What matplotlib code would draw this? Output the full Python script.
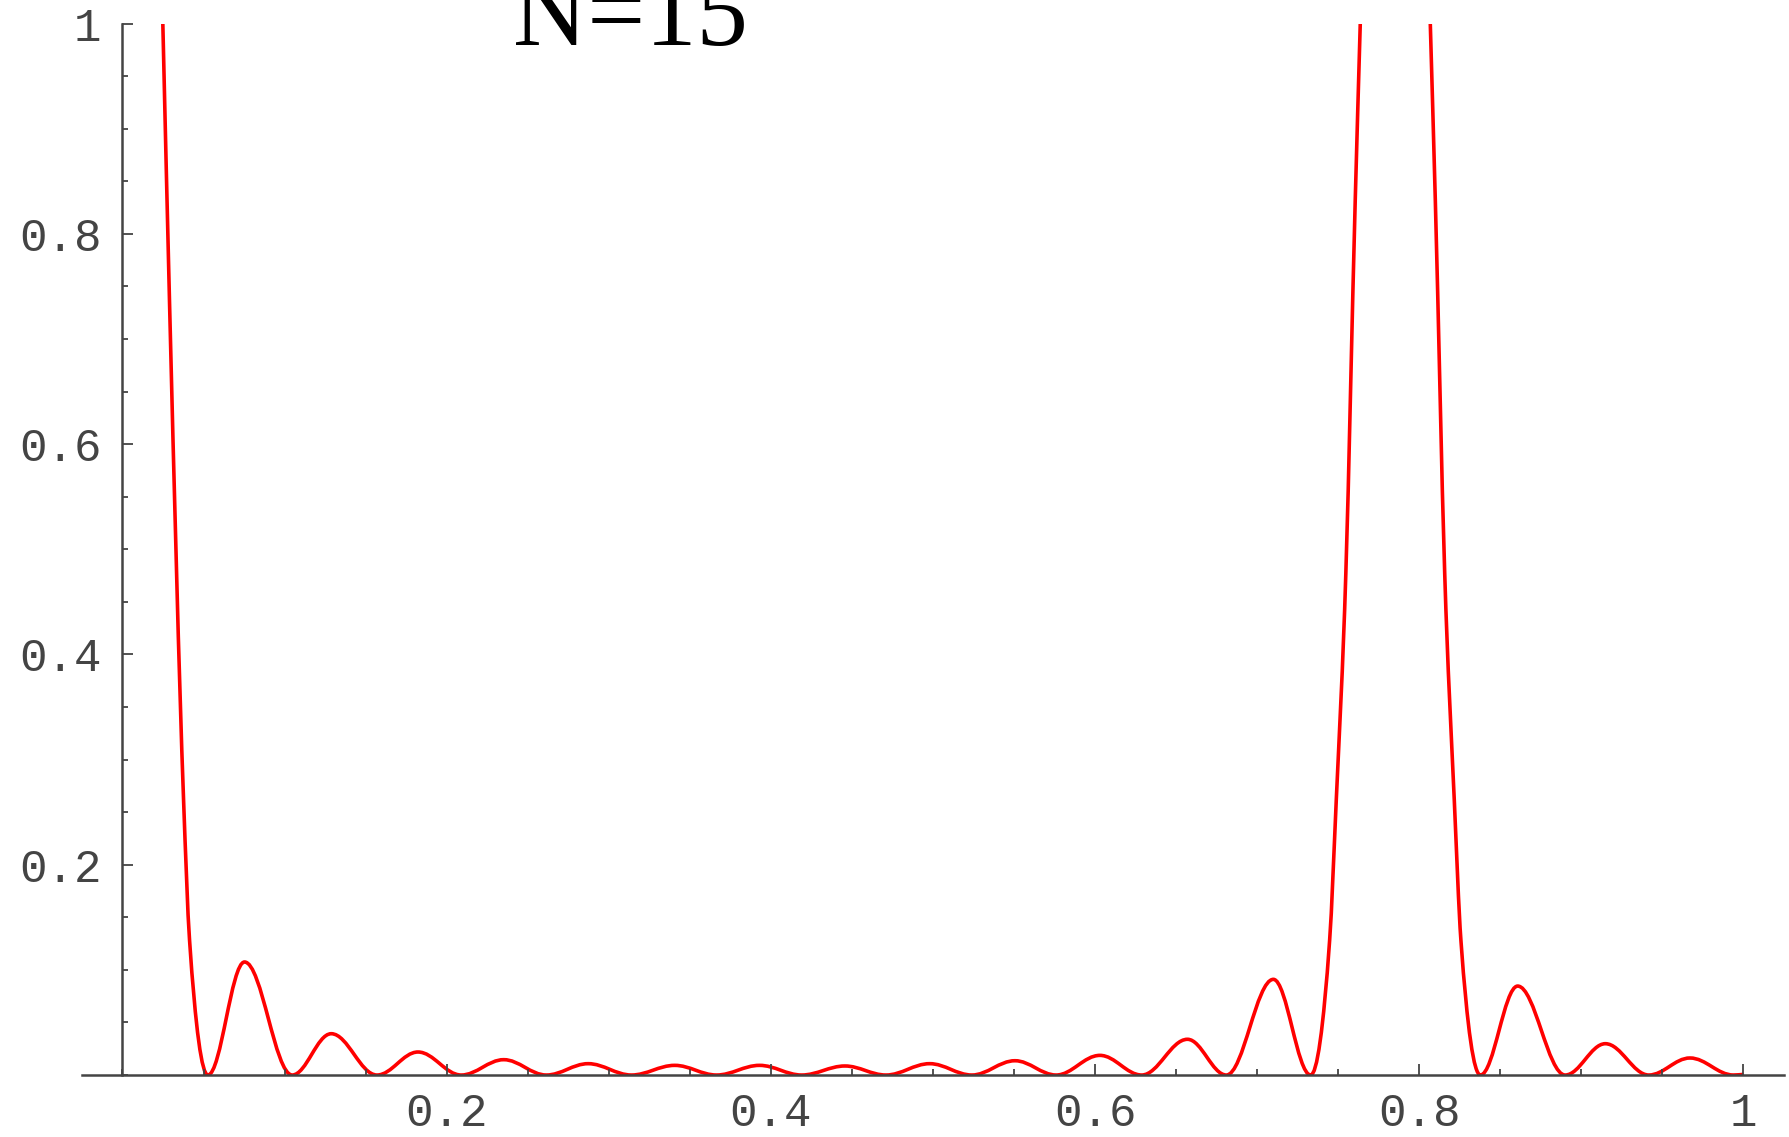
import matplotlib
matplotlib.use("Agg")
import matplotlib.pyplot as plt
from matplotlib.path import Path
from matplotlib.patches import PathPatch
from matplotlib.ticker import MultipleLocator

TITLE = "N=15"

# left main lobe, falling flank (its top is cut off at y = 1)
left_flank_x = [0.0249, 0.0290, 0.0377, 0.0414]
left_flank_y = [1.0, 0.737, 0.2615, 0.128]

# zeros and side-lobe maxima between the two main lobes
zeros_x = [0.0527, 0.1047, 0.157, 0.209, 0.2615, 0.314, 0.3665,
           0.419, 0.471, 0.524, 0.576, 0.6288, 0.681, 0.733]
side_peak_x = [0.0753, 0.1288, 0.1823, 0.2352, 0.2873, 0.3407, 0.393,
               0.4457, 0.498, 0.5506, 0.603, 0.657, 0.710]
side_peak_y = [0.1075, 0.0393, 0.0219, 0.0146, 0.0108, 0.0092, 0.0092,
               0.0086, 0.0108, 0.0136, 0.0187, 0.034, 0.091]

# right main lobe flanks (cut off at y = 1)
rise_x = [0.7447, 0.7488, 0.7547, 0.7605, 0.7636]
rise_y = [0.128, 0.2615, 0.477, 0.832, 1.0]
fall_x = [0.8068, 0.8099, 0.8157, 0.8216, 0.8257]
fall_y = [1.0, 0.832, 0.477, 0.2615, 0.128]

# side lobes right of the main lobe, up to x = 1
tail_zeros_x = [0.8377, 0.890, 0.9416, 0.9938]
tail_peak_x = [0.8607, 0.9148, 0.967]
tail_peak_y = [0.0846, 0.0298, 0.0162]
end_x, end_y = 1.0, 0.0006

x_ticks = [0.2, 0.4, 0.6, 0.8, 1.0]
x_labels = ["0.2", "0.4", "0.6", "0.8", "1"]
y_ticks = [0.2, 0.4, 0.6, 0.8, 1.0]
y_labels = ["0.2", "0.4", "0.6", "0.8", "1"]

LINE_RED = "#ff0000"
AXIS_GRAY = "#444444"
TICK_FONT = "Liberation Mono"
TITLE_FONT = "Liberation Serif"


def interleave(zeros, peak_x, peak_y):
    xs, ys = [], []
    for i, z in enumerate(zeros):
        xs.append(z)
        ys.append(0.0)
        if i < len(peak_x):
            xs.append(peak_x[i])
            ys.append(peak_y[i])
    return xs, ys


def knot_slopes(xs, ys):
    n = len(xs)
    out = []
    for i in range(n):
        if ys[i] == 0 or (0 < i < n - 1 and ys[i] >= ys[i - 1] and ys[i] >= ys[i + 1]):
            out.append(0.0)
        elif i + 1 < n and ys[i + 1] == 0 and i > 0:
            # curve touches zero next: tangent of the parabola through that zero
            out.append(2 * ys[i] / (xs[i] - xs[i + 1]))
        elif i > 0 and ys[i - 1] == 0 and i + 1 < n:
            out.append(2 * ys[i] / (xs[i] - xs[i - 1]))
        elif i == 0 or i == n - 1:
            j = 1 if i == 0 else n - 1
            out.append((ys[j] - ys[j - 1]) / (xs[j] - xs[j - 1]))
        else:
            h0, h1 = xs[i] - xs[i - 1], xs[i + 1] - xs[i]
            d0 = (ys[i] - ys[i - 1]) / h0
            d1 = (ys[i + 1] - ys[i]) / h1
            out.append((d0 * h1 + d1 * h0) / (h0 + h1))
    return out


def smooth_path(xs, ys):
    # cubic bezier through the read points
    m = knot_slopes(xs, ys)
    verts = [(xs[0], ys[0])]
    codes = [Path.MOVETO]
    for i in range(len(xs) - 1):
        k = 0.365 if (m[i] == 0 and m[i + 1] == 0) else 1 / 3
        h = (xs[i + 1] - xs[i]) * k
        verts += [(xs[i] + h, ys[i] + m[i] * h),
                  (xs[i + 1] - h, ys[i + 1] - m[i + 1] * h),
                  (xs[i + 1], ys[i + 1])]
        codes += [Path.CURVE4] * 3
    return verts, codes


mid_x, mid_y = interleave(zeros_x, side_peak_x, side_peak_y)
piece1_x = left_flank_x + mid_x + rise_x
piece1_y = left_flank_y + mid_y + rise_y

tail_x, tail_y = interleave(tail_zeros_x, tail_peak_x, tail_peak_y)
piece2_x = fall_x + tail_x + [end_x]
piece2_y = fall_y + tail_y + [end_y]

v1, c1 = smooth_path(piece1_x, piece1_y)
v2, c2 = smooth_path(piece2_x, piece2_y)

fig = plt.figure(figsize=(17.89, 11.37), dpi=100)
ax = fig.add_axes([0.0458, 0.0545, 0.9514, 0.9248])

ax.add_patch(PathPatch(Path(v1 + v2, c1 + c2), fill=False,
                       edgecolor=LINE_RED, lw=2.6, joinstyle="round"))

ax.set_xlim(-0.025, 1.025)
ax.set_ylim(0, 1)

for side in ("top", "right"):
    ax.spines[side].set_visible(False)
ax.spines["left"].set_position(("data", 0))
for side in ("left", "bottom"):
    ax.spines[side].set_color(AXIS_GRAY)
    ax.spines[side].set_linewidth(1.8)

ax.set_xticks(x_ticks)
ax.set_xticklabels(x_labels)
ax.set_yticks(y_ticks)
ax.set_yticklabels(y_labels)
ax.xaxis.set_minor_locator(MultipleLocator(0.05))
ax.yaxis.set_minor_locator(MultipleLocator(0.05))

ax.tick_params(which="both", direction="in", color=AXIS_GRAY, width=1.3)
ax.tick_params(which="major", length=8)
ax.tick_params(which="minor", length=4.5)
ax.tick_params(axis="x", which="major", pad=12)
ax.tick_params(axis="y", which="major", pad=15)
for lab in ax.get_xticklabels() + ax.get_yticklabels():
    lab.set_family(TICK_FONT)
    lab.set_fontsize(33)
    lab.set_color("#444444")

fig.text(630 / 1789, 1 - 45 / 1137, TITLE, ha="center", va="baseline",
         fontsize=74, family=TITLE_FONT, color="black")

fig.savefig("out.png", dpi=100)
